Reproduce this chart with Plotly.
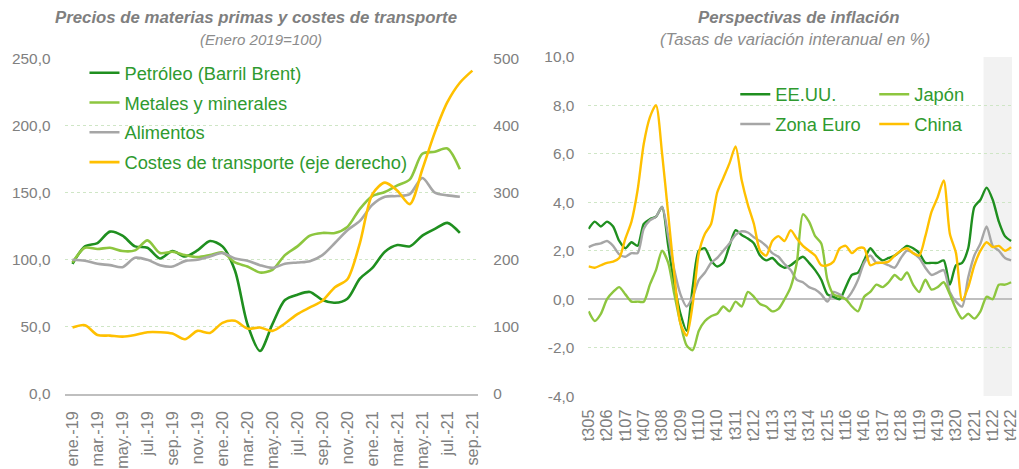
import plotly.graph_objects as go

# ---------------- Left chart data (monthly, Enero 2019 = 100) ----------------
months = ["ene.-19", "feb.-19", "mar.-19", "abr.-19", "may.-19", "jun.-19", "jul.-19", "ago.-19",
          "sep.-19", "oct.-19", "nov.-19", "dic.-19", "ene.-20", "feb.-20", "mar.-20", "abr.-20",
          "may.-20", "jun.-20", "jul.-20", "ago.-20", "sep.-20", "oct.-20", "nov.-20", "dic.-20",
          "ene.-21", "feb.-21", "mar.-21", "abr.-21", "may.-21", "jun.-21", "jul.-21", "ago.-21",
          "sep.-21"]

petroleo = [97, 110, 112.5, 121, 118, 110, 109, 101, 106.5, 102.5, 107, 114, 110, 92, 52, 32,
            52, 70, 74, 76, 70, 68, 71, 86, 94, 106, 111, 110, 118, 123, 127.5, 120]
metales = [98, 109, 108, 109, 106.5, 107, 114.5, 105, 106, 103.5, 102, 103.5, 105.5, 98, 95, 90.5,
           92.5, 103.5, 110, 118, 120, 120, 124.5, 138, 147.5, 150.5, 155.5, 160, 179, 180.5, 183, 167.5]
alimentos = [100, 99.3, 97, 96, 94.5, 101.5, 100, 96, 95, 99, 100, 102.5, 105, 101, 99.3, 96,
             94, 97, 98, 99, 103.5, 112.5, 122, 129, 141, 147, 147.5, 149, 161, 150, 148, 147]
transporte = [99, 102.5, 88, 87, 85.5, 88, 92, 92, 90, 81.5, 94, 91, 106, 109, 97.5, 99,
              94, 105, 119, 129, 139, 159, 171, 225, 298, 315, 303, 283, 335, 390, 435, 464, 482]

left_names = ["Petróleo (Barril Brent)", "Metales y minerales", "Alimentos",
              "Costes de transporte (eje derecho)"]

# ---------------- Right chart data (quarterly, % y/y) ----------------
quarters = [f"t{q}{y % 100:02d}" for y in range(2005, 2023) for q in range(1, 5)]
quarters = quarters[quarters.index("t305"):quarters.index("t422") + 1]

eeuu = [2.9, 3.2, 3.0, 3.2, 3.0, 2.4, 2.1, 2.35, 2.2, 3.1, 3.3, 3.4, 3.8, 2.2, 0.6, -0.6, -1.3,
        0.5, 2.0, 2.1, 1.6, 1.35, 1.5, 2.2, 2.85, 2.65, 2.5, 2.3, 1.8, 1.6, 1.7, 1.45, 1.3, 1.4,
        1.6, 1.75, 1.5, 1.2, 0.8, 0.2, 0.1, 0.0, 0.5, 1.0, 1.1, 1.6, 2.1, 1.8, 1.6, 1.7, 1.8,
        2.0, 2.2, 2.1, 1.9, 1.5, 1.5, 1.5, 1.6, 0.6, 1.4, 1.5, 2.1, 3.8, 4.1, 4.6, 4.1, 3.2, 2.6, 2.4]
zona_euro = [2.15, 2.25, 2.3, 2.4, 2.2, 1.85, 1.75, 1.9, 1.9, 2.9, 3.25, 3.4, 3.8, 2.6, 1.2, 0.2,
             -0.3, 0.1, 0.8, 1.1, 1.5, 1.7, 2.0, 2.3, 2.65, 2.8, 2.75, 2.55, 2.4, 2.2, 1.9, 1.75,
             1.45, 1.2, 0.8, 0.7, 0.5, 0.4, 0.2, -0.1, 0.3, 0.2, 0.0, 0.3, 0.8, 1.5, 1.8, 1.5, 1.5,
             1.4, 1.3, 1.7, 2.0, 1.9, 1.7, 1.3, 1.0, 1.1, 1.2, 0.3, -0.1, -0.3, 0.9, 1.8, 2.3, 3.0,
             2.2, 2.0, 1.7, 1.6]
japon = [-0.5, -0.9, -0.6, 0.0, 0.3, 0.5, 0.2, -0.1, -0.1, -0.1, 0.6, 1.2, 2.0, 1.5, 0.2, -1.0,
         -1.9, -2.1, -1.3, -0.9, -0.7, -0.6, -0.3, -0.5, -0.1, -0.3, 0.3, 0.1, -0.2, -0.3, -0.5,
         -0.4, 0.0, 0.5, 1.5, 3.5, 3.2, 2.6, 2.3, 0.8, 0.2, 0.1, 0.0, -0.3, -0.5, 0.1, 0.3, 0.6,
         0.5, 0.7, 1.0, 0.8, 1.1, 0.6, 0.3, 0.8, 0.4, 0.5, 0.7, 0.2, -0.4, -0.8, -0.6, -0.8, -0.5,
         0.1, 0.0, 0.6, 0.6, 0.7]
china = [1.35, 1.3, 1.4, 1.5, 1.55, 1.7, 2.5, 3.2, 4.5, 6.4, 7.5, 8.0, 6.0, 3.5, 1.0, -1.0, -1.5,
         -0.2, 1.9, 2.7, 3.1, 4.4, 5.0, 5.6, 6.3, 4.9, 3.9, 3.1, 2.0, 1.8, 2.4, 2.6, 2.4, 2.85, 2.5,
         2.2, 2.0, 1.8, 1.4, 1.4, 1.55, 2.1, 2.2, 1.9, 2.1, 2.1, 1.4, 1.5, 1.5, 1.55, 1.8, 2.0, 2.1,
         1.9, 1.8, 2.6, 3.6, 4.2, 4.9, 2.7, 1.9, -0.05, 0.5, 1.4, 2.0, 2.35, 2.15, 2.2, 2.0, 2.15]

right_names = ["EE.UU.", "Zona Euro", "Japón", "China"]
forecast_start = "t321"   # shaded forecast period begins here (half a quarter before)

# ---------------- Styles ----------------
DARK = "#1f8f1f"
LIGHT = "#8dc63f"
GRAY = "#a6a6a6"
YELLOW = "#ffc000"
TXT = "#808080"
LEG = "#2f9a2f"
GRID = "#cfe6c6"
FONT = "Liberation Sans, Arial, sans-serif"
W, H = 1019, 469
# observed fit of the rendered page into the window (offset, scale)
OX, SX = 8.5, 0.9846
OY, SY = 8.5, 0.966

fig = go.Figure()

left_series = [petroleo, metales, alimentos]
left_colors = [DARK, LIGHT, GRAY]
for name, vals, col in zip(left_names[:3], left_series, left_colors):
    fig.add_trace(go.Scatter(x=months[:len(vals)], y=vals, name=name, mode="lines",
                             line=dict(color=col, width=2.6, shape="spline", smoothing=0.8),
                             xaxis="x", yaxis="y", legend="legend", legendgroup=name))
fig.add_trace(go.Scatter(x=months, y=transporte, name=left_names[3], mode="lines",
                         line=dict(color=YELLOW, width=2.6, shape="spline", smoothing=0.8),
                         xaxis="x", yaxis="y3", legend="legend", legendgroup=left_names[3]))

right_series = [eeuu, zona_euro, japon, china]
right_colors = [DARK, GRAY, LIGHT, YELLOW]
right_legends = ["legend2", "legend2", "legend3", "legend3"]
for name, vals, col, lg in zip(right_names, right_series, right_colors, right_legends):
    fig.add_trace(go.Scatter(x=quarters, y=vals, name=name, mode="lines",
                             line=dict(color=col, width=2.4, shape="spline", smoothing=0.7),
                             xaxis="x2", yaxis="y2", legend=lg, legendgroup=name))

def px_x(p):
    return min(1.0, max(0.0, (p - OX) / SX / W))

def px_y(p):
    return min(1.0, max(0.0, 1 - (p - OY) / SY / H))

fs = quarters.index(forecast_start)
fig.add_shape(type="rect", xref="x2", yref="y2", x0=fs + 0.5, x1=len(quarters),
              y0=-4, y1=10, fillcolor="#f2f2f2", line=dict(width=0), layer="below")

ytickfont = dict(family=FONT, size=15.4, color=TXT)
xtickfont = dict(family=FONT, size=16.3, color=TXT)
legfont = dict(family=FONT, size=18.3, color=LEG)

def title_ann(text, x, y, size, color):
    return dict(text=text, x=px_x(x), y=px_y(y), xref="paper", yref="paper",
                xanchor="center", yanchor="middle", showarrow=False,
                font=dict(family=FONT, size=size, color=color))

fig.update_layout(
    width=W, height=H, autosize=False,
    margin=dict(l=0, r=0, t=0, b=0),
    paper_bgcolor="white", plot_bgcolor="rgba(0,0,0,0)",
    separators=",.",
    font=dict(family=FONT, color=TXT),
    xaxis=dict(domain=[px_x(65), px_x(478)], type="category", range=[-0.56, 32.48],
               tickvals=months[::2], ticktext=months[::2], tickangle=-90, tickfont=xtickfont,
               showgrid=False, showline=True, linecolor="#bfbfbf", linewidth=1.5,
               ticks="", ticklabelstandoff=9, anchor="y"),
    yaxis=dict(domain=[px_y(408.5), px_y(60)], range=[0, 250], dtick=50, tickformat=".1f",
               tickfont=ytickfont, showgrid=True, gridcolor=GRID, griddash="dot", gridwidth=1,
               zeroline=False, showline=False, ticks="", ticklabelstandoff=14, anchor="x"),
    yaxis3=dict(overlaying="y", side="right", range=[0, 500], dtick=100, tickformat="d",
                tickfont=ytickfont, showgrid=False, zeroline=False, showline=False, ticks="",
                ticklabelstandoff=14, anchor="x"),
    xaxis2=dict(domain=[px_x(588), px_x(1015)], type="category", range=[-0.05, 69.15],
                tickvals=quarters[::3], ticktext=quarters[::3], tickangle=-90, tickfont=xtickfont,
                showgrid=False, showline=False, ticks="", ticklabelstandoff=9, anchor="y2"),
    yaxis2=dict(domain=[px_y(410.9), px_y(58)], range=[-4, 10],
                tickvals=[-4, -2, 0, 2, 4, 6, 8, 10],
                ticktext=["-4,0", "-2,0", "0,0", "2,0", "4,0", "6,0", "8,0", "10,0"],
                tickfont=ytickfont, showgrid=True, gridcolor=GRID, griddash="dot", gridwidth=1,
                zeroline=True, zerolinecolor="#bfbfbf", zerolinewidth=1.5, showline=False,
                ticks="", ticklabelstandoff=13, anchor="x2"),
    legend=dict(x=px_x(84), y=px_y(55.6), xanchor="left", yanchor="top", font=legfont,
                bgcolor="rgba(0,0,0,0)", tracegroupgap=3, traceorder="grouped"),
    legend2=dict(x=px_x(735), y=px_y(78), xanchor="left", yanchor="top", font=legfont,
                 bgcolor="rgba(0,0,0,0)", tracegroupgap=3, traceorder="grouped"),
    legend3=dict(x=px_x(874), y=px_y(78), xanchor="left", yanchor="top", font=legfont,
                 bgcolor="rgba(0,0,0,0)", tracegroupgap=3, traceorder="grouped"),
    annotations=[
        title_ann("<b><i>Precios de materias primas y costes de transporte</i></b>", 256, 17, 16.8, "#7f7f7f"),
        title_ann("<i>(Enero 2019=100)</i>", 261, 40, 15.1, "#8c8c8c"),
        title_ann("<b><i>Perspectivas de inflación</i></b>", 798, 17, 16.8, "#7f7f7f"),
        title_ann("<i>(Tasas de variación interanual en %)</i>", 795, 40, 16.7, "#8c8c8c"),
    ],
)

fig.write_html("out.html", config={"displayModeBar": False},
               post_script="document.body.style.margin='0';document.body.style.overflow='hidden';")
